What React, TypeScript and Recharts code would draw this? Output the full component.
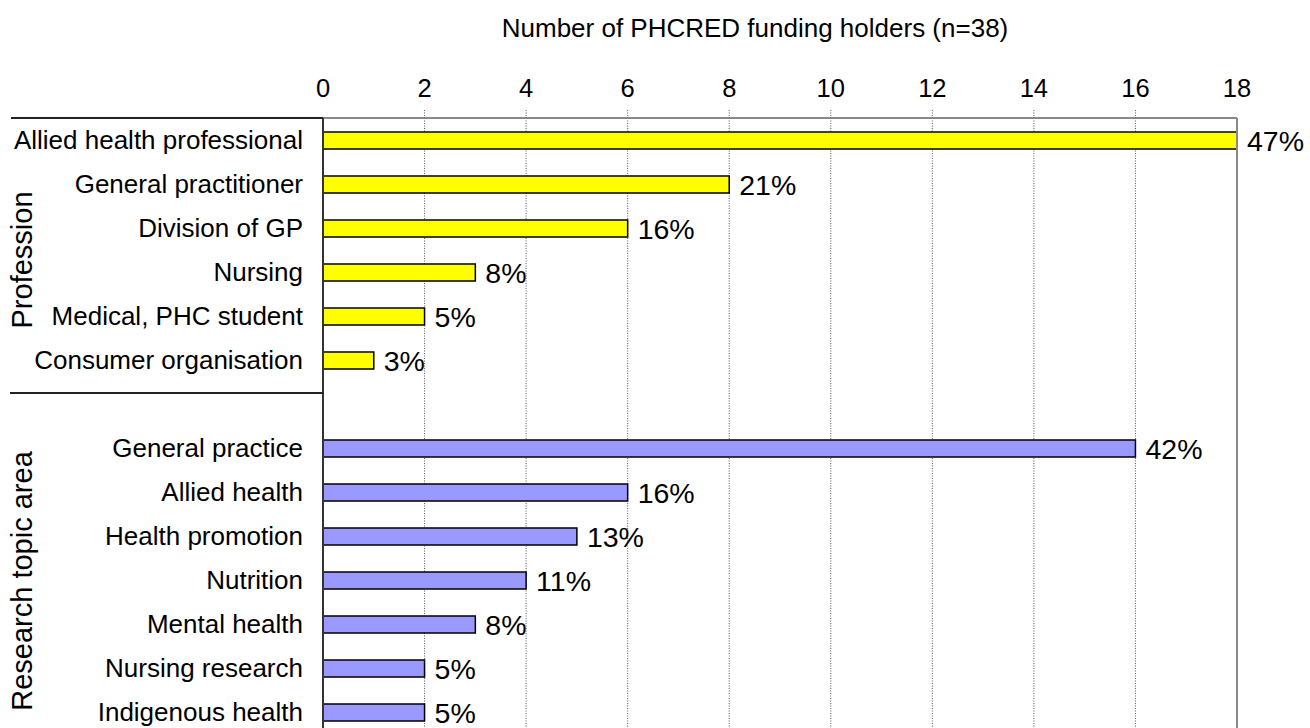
import React from 'react';
import { BarChart, Bar, XAxis, YAxis, CartesianGrid, Cell, LabelList, ReferenceLine } from 'recharts';

const categories = [
  'Allied health professional',
  'General practitioner',
  'Division of GP',
  'Nursing',
  'Medical, PHC student',
  'Consumer organisation',
  '',
  'General practice',
  'Allied health',
  'Health promotion',
  'Nutrition',
  'Mental health',
  'Nursing research',
  'Indigenous health',
];
const counts = [18, 8, 6, 3, 2, 1, null, 16, 6, 5, 4, 3, 2, 2];
const percents = [47, 21, 16, 8, 5, 3, null, 42, 16, 13, 11, 8, 5, 5];
const groups = ['prof', 'prof', 'prof', 'prof', 'prof', 'prof', '', 'topic', 'topic', 'topic', 'topic', 'topic', 'topic', 'topic'];
const xTicks = [0, 2, 4, 6, 8, 10, 12, 14, 16, 18];

const FONT = '"Liberation Sans", Arial, Helvetica, sans-serif';
const PLOT_TOP = 118;
const PLOT_LEFT = 323;

const data = categories.map((name, i) => ({ name, count: counts[i], pct: percents[i], group: groups[i] }));

// ticks on top axis: number plus short dotted mark (not at the ends)
const TopTick = (props: any) => {
  const { x, payload } = props;
  const v = payload.value;
  return (
    <g>
      {v !== 0 && v !== 18 && (
        <line x1={x} x2={x} y1={PLOT_TOP - 8} y2={PLOT_TOP} stroke="#555" strokeDasharray="1 1.5" />
      )}
      <text x={x} y={97} textAnchor="middle" fontSize={25.5} fontFamily={FONT} fill="#000">{v}</text>
    </g>
  );
};

export default function App() {
  return (
    <div style={{ position: 'absolute', left: 0, top: 0, width: 1310, height: 728, overflow: 'hidden', background: '#fff', fontFamily: FONT }}>
      <BarChart
        width={1310}
        height={740}
        data={data}
        layout="vertical"
        margin={{ top: 58, right: 73, left: 0, bottom: 6 }}
        barSize={17}
      >
        {/* grilla punteada vertical */}
        <CartesianGrid horizontal={false} vertical stroke="#555" strokeDasharray="1 1.5" />
        <XAxis
          type="number"
          orientation="top"
          domain={[0, 18]}
          ticks={xTicks}
          height={60}
          axisLine={{ stroke: '#888', strokeWidth: 2 }}
          tickLine={false}
          tick={<TopTick />}
          interval={0}
        />
        <YAxis
          type="category"
          dataKey="name"
          width={PLOT_LEFT}
          axisLine={{ stroke: '#333', strokeWidth: 2 }}
          tickLine={false}
          tickSize={0}
          tickMargin={20}
          interval={0}
          tick={{ fontSize: 26, fill: '#000', fontFamily: FONT }}
        />
        <ReferenceLine x={18} stroke="#888" strokeWidth={2} />
        <Bar dataKey="count" stroke="#000" strokeWidth={1.5} isAnimationActive={false}>
          {data.map((d, i) => (
            <Cell key={i} fill={d.group === 'prof' ? '#ffff00' : '#9999ff'} />
          ))}
          <LabelList
            dataKey="pct"
            position="right"
            offset={10}
            formatter={(v: any) => (v == null ? '' : v + '%')}
            style={{ fontSize: 28.5, fill: '#000', fontFamily: FONT }}
          />
        </Bar>
      </BarChart>

      {/* title, group labels and separators */}
      <svg width={1310} height={728} style={{ position: 'absolute', left: 0, top: 0, pointerEvents: 'none' }}>
        <text x={755} y={37} textAnchor="middle" fontSize={26} fontFamily={FONT} fill="#000">
          Number of PHCRED funding holders (n=38)
        </text>
        <line x1={11} x2={PLOT_LEFT} y1={PLOT_TOP} y2={PLOT_TOP} stroke="#222" strokeWidth={2} />
        <line x1={10} x2={PLOT_LEFT} y1={393} y2={393} stroke="#222" strokeWidth={2} />
        <text transform="translate(32,260) rotate(-90)" textAnchor="middle" fontSize={29} fontFamily={FONT} fill="#000">
          Profession
        </text>
        <text transform="translate(32,581) rotate(-90)" textAnchor="middle" fontSize={29} fontFamily={FONT} fill="#000">
          Research topic area
        </text>
      </svg>
    </div>
  );
}
